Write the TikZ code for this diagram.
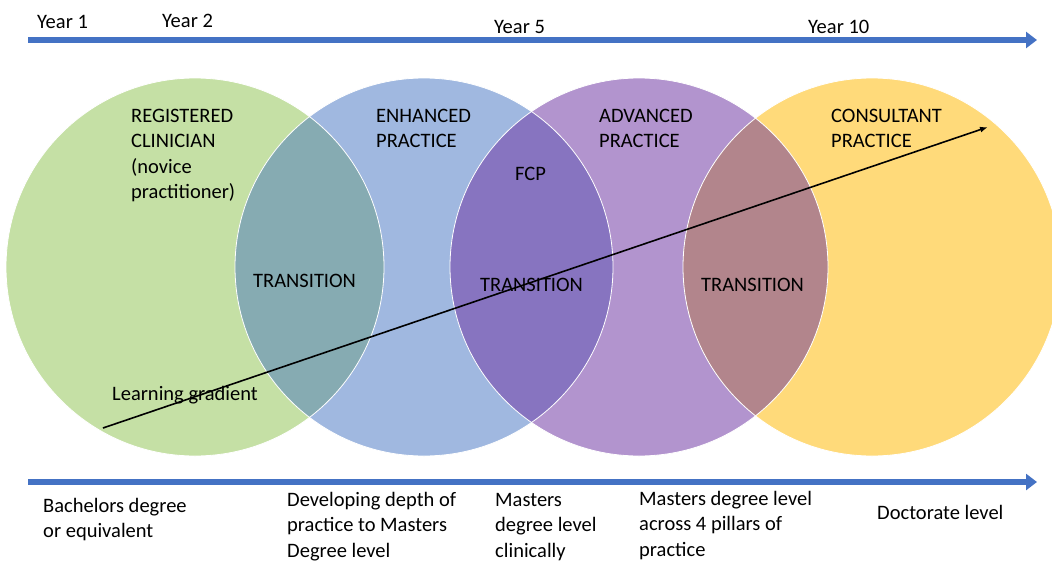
\documentclass[tikz,border=0pt]{standalone}
\usepackage{fontspec}
\setmainfont{Carlito}
\usetikzlibrary{arrows.meta,positioning}
\definecolor{regGreen}{RGB}{197,224,165}
\definecolor{enhBlue}{RGB}{160,184,224}
\definecolor{advPurple}{RGB}{178,148,206}
\definecolor{conYellow}{RGB}{255,218,122}
\definecolor{mixGB}{RGB}{134,171,178}
\definecolor{mixBP}{RGB}{135,116,192}
\definecolor{mixPY}{RGB}{178,133,140}
\definecolor{axisBlue}{RGB}{68,114,196}

\begin{document}
\begin{tikzpicture}[x=1pt,y=-1pt,
stage/.style={circle, inner sep=0pt, minimum size=378pt},
lbl/.style={anchor=base west, inner sep=0pt, align=left, font=\fontsize{20.5}{25.5}\selectfont},
axis/.style={line width=6pt, draw=axisBlue, -{Triangle[length=11pt,width=16pt]}},
gradient/.style={line width=1.6pt, -{Latex[length=8pt,width=6pt]}}]
\useasboundingbox (0,0) rectangle (1052,563);
\clip (0,0) rectangle (1052,563);
% Circles
\node[stage, fill=regGreen] (c1) at (195,267) {};
\node[stage, fill=enhBlue] (c2) at (424,267) {};
\node[stage, fill=advPurple] (c3) at (639,267) {};
\node[stage, fill=conYellow] (c4) at (872,267) {};
% Overlaps
\begin{scope}
\clip (c1.center) circle[radius=189];
\fill[mixGB] (c2.center) circle[radius=189];
\end{scope}
\begin{scope}
\clip (c2.center) circle[radius=189];
\fill[mixBP] (c3.center) circle[radius=189];
\end{scope}
\begin{scope}
\clip (c3.center) circle[radius=189];
\fill[mixPY] (c4.center) circle[radius=189];
\end{scope}
\foreach \c in {c1,c2,c3,c4}
  \draw[white, line width=0.8pt] (\c.center) circle[radius=189];
% Axes
\coordinate (t0) at (28,40);
\coordinate (t1) at (1037,40);
\coordinate (b0) at (28,482);
\coordinate (b1) at (1037,482);
\draw[axis] (t0) -- (t1);
\draw[axis] (b0) -- (b1);
% Years
\node[lbl] (y1) at (37,28) {Year 1};
\node[lbl] (y2) at (162,27) {Year 2};
\node[lbl] (y5) at (494,33) {Year 5};
\node[lbl] (y10) at (808,33) {Year 10};
% Stage titles (base = last line)
\node[lbl] (reg) at (131,198.5) {REGISTERED\\CLINICIAN\\(novice\\practitioner)};
\node[lbl] (enh) at (376,147.5) {ENHANCED\\PRACTICE};
\node[lbl] (adv) at (599,147.5) {ADVANCED\\PRACTICE};
\node[lbl] (con) at (831,147.5) {CONSULTANT\\PRACTICE};
\node[lbl] (fcp) at (515,180) {FCP};
\node[lbl] (tr1) at (253,287) {TRANSITION};
\node[lbl] (tr2) at (480,291) {TRANSITION};
\node[lbl] (tr3) at (701,291) {TRANSITION};
\node[lbl] (lg) at (112,400) {Learning gradient};
% Learning gradient
\coordinate (g0) at (103,428);
\coordinate (g1) at (988,127);
\draw[gradient] (g0) -- (g1);
% Levels
\node[lbl] (l1) at (43,537.5) {Bachelors degree\\or equivalent};
\node[lbl] (l2) at (287,557) {Developing depth of\\practice to Masters\\Degree level};
\node[lbl] (l3) at (495,557) {Masters\\degree level\\clinically};
\node[lbl] (l4) at (639,556) {Masters degree level\\across 4 pillars of\\practice};
\node[lbl] (l5) at (877,519) {Doctorate level};
\end{tikzpicture}
\end{document}
